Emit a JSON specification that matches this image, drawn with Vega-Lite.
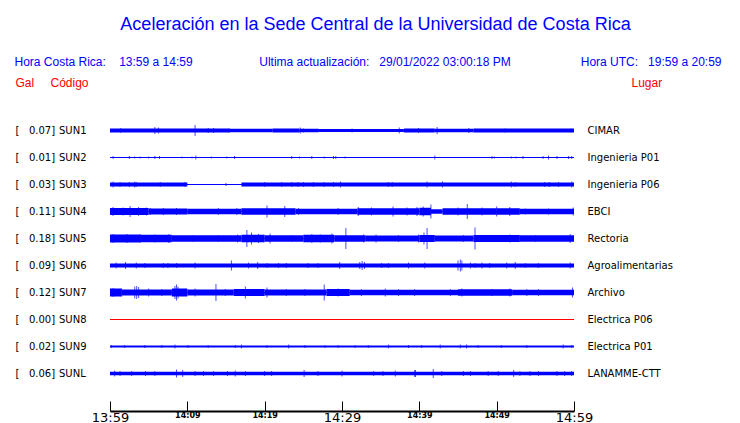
{
  "$schema": "https://vega.github.io/schema/vega-lite/v6.json",
  "width": 464,
  "height": 294,
  "autosize": {"type": "none"},
  "padding": {"left": 110, "top": 117, "right": 166, "bottom": 12},
  "background": "white",
  "title": {
    "text": "\u200b\u00a0\u00a0\u00a0Aceleración en la Sede Central de la Universidad de Costa Rica",
    "subtitle": "Hora Costa Rica:\u00a0\u00a0\u00a0\u00a013:59 a 14:59\u00a0\u00a0\u00a0\u00a0\u00a0\u00a0\u00a0\u00a0\u00a0\u00a0\u00a0\u00a0\u00a0\u00a0\u00a0\u00a0\u00a0\u00a0\u00a0\u00a0Ultima actualización:\u00a0\u00a0\u00a029/01/2022 03:00:18 PM\u00a0\u00a0\u00a0\u00a0\u00a0\u00a0\u00a0\u00a0\u00a0\u00a0\u00a0\u00a0\u00a0\u00a0\u00a0\u00a0\u00a0\u00a0\u00a0\u00a0\u00a0Hora UTC:\u00a0\u00a0\u00a019:59 a 20:59",
    "anchor": "middle",
    "frame": "group",
    "dx": 26,
    "font": "Liberation Sans",
    "fontSize": 18,
    "fontWeight": "normal",
    "color": "#0000ff",
    "subtitleFont": "Liberation Sans",
    "subtitleFontSize": 12,
    "subtitleColor": "#0000ff",
    "subtitlePadding": 23,
    "offset": 8
  },
  "datasets": {
    "estaciones": [
      {"canal": "SUN1", "pga": 0.07, "lugar": "CIMAR"},
      {"canal": "SUN2", "pga": 0.01, "lugar": "Ingenieria P01"},
      {"canal": "SUN3", "pga": 0.03, "lugar": "Ingenieria P06"},
      {"canal": "SUN4", "pga": 0.11, "lugar": "EBCI"},
      {"canal": "SUN5", "pga": 0.18, "lugar": "Rectoria"},
      {"canal": "SUN6", "pga": 0.09, "lugar": "Agroalimentarias"},
      {"canal": "SUN7", "pga": 0.12, "lugar": "Archivo"},
      {"canal": "SUN8", "pga": 0.0, "lugar": "Electrica P06"},
      {"canal": "SUN9", "pga": 0.02, "lugar": "Electrica P01"},
      {"canal": "SUNL", "pga": 0.06, "lugar": "LANAMME-CTT"}
    ],
    "tramos": [
      {"canal": "SUN1", "t0": 0, "t1": 15.5, "amp": 4},
      {"canal": "SUN1", "t0": 15.5, "t1": 21, "amp": 3.5},
      {"canal": "SUN1", "t0": 21, "t1": 24.5, "amp": 4},
      {"canal": "SUN1", "t0": 24.5, "t1": 27, "amp": 3.5},
      {"canal": "SUN1", "t0": 27, "t1": 38, "amp": 3},
      {"canal": "SUN1", "t0": 38, "t1": 42, "amp": 4},
      {"canal": "SUN1", "t0": 42, "t1": 47, "amp": 3.5},
      {"canal": "SUN1", "t0": 47, "t1": 60, "amp": 4},
      {"canal": "SUN3", "t0": 0, "t1": 10, "amp": 4},
      {"canal": "SUN3", "t0": 17, "t1": 60, "amp": 4},
      {"canal": "SUN4", "t0": 0, "t1": 5, "amp": 7},
      {"canal": "SUN4", "t0": 5, "t1": 10, "amp": 6},
      {"canal": "SUN4", "t0": 10, "t1": 17, "amp": 5.5},
      {"canal": "SUN4", "t0": 17, "t1": 24, "amp": 6.5},
      {"canal": "SUN4", "t0": 24, "t1": 32, "amp": 5.5},
      {"canal": "SUN4", "t0": 32, "t1": 40, "amp": 6.5},
      {"canal": "SUN4", "t0": 40, "t1": 41.5, "amp": 7.5},
      {"canal": "SUN4", "t0": 41.5, "t1": 43, "amp": 4.5},
      {"canal": "SUN4", "t0": 43, "t1": 50, "amp": 6.5},
      {"canal": "SUN4", "t0": 50, "t1": 53, "amp": 6.5},
      {"canal": "SUN4", "t0": 53, "t1": 60, "amp": 5.5},
      {"canal": "SUN5", "t0": 0, "t1": 4, "amp": 8},
      {"canal": "SUN5", "t0": 4, "t1": 8, "amp": 7.5},
      {"canal": "SUN5", "t0": 8, "t1": 17, "amp": 6.5},
      {"canal": "SUN5", "t0": 17, "t1": 20, "amp": 7.5},
      {"canal": "SUN5", "t0": 20, "t1": 25, "amp": 6.5},
      {"canal": "SUN5", "t0": 25, "t1": 29, "amp": 7.5},
      {"canal": "SUN5", "t0": 29, "t1": 33, "amp": 6.5},
      {"canal": "SUN5", "t0": 33, "t1": 40, "amp": 6},
      {"canal": "SUN5", "t0": 40, "t1": 42, "amp": 7},
      {"canal": "SUN5", "t0": 42, "t1": 47, "amp": 6},
      {"canal": "SUN5", "t0": 47, "t1": 53, "amp": 7},
      {"canal": "SUN5", "t0": 53, "t1": 60, "amp": 6.5},
      {"canal": "SUN6", "t0": 0, "t1": 60, "amp": 4},
      {"canal": "SUN7", "t0": 0, "t1": 1.5, "amp": 8},
      {"canal": "SUN7", "t0": 1.5, "t1": 8, "amp": 6},
      {"canal": "SUN7", "t0": 8, "t1": 10, "amp": 8},
      {"canal": "SUN7", "t0": 10, "t1": 16, "amp": 6},
      {"canal": "SUN7", "t0": 16, "t1": 20, "amp": 7},
      {"canal": "SUN7", "t0": 20, "t1": 28, "amp": 6},
      {"canal": "SUN7", "t0": 28, "t1": 31, "amp": 7},
      {"canal": "SUN7", "t0": 31, "t1": 45, "amp": 5.5},
      {"canal": "SUN7", "t0": 45, "t1": 52, "amp": 6.5},
      {"canal": "SUN7", "t0": 52, "t1": 60, "amp": 5.5},
      {"canal": "SUN9", "t0": 0, "t1": 60, "amp": 2},
      {"canal": "SUNL", "t0": 0, "t1": 60, "amp": 3.5}
    ],
    "picos": [
      {"canal": "SUN1", "t": 1.4, "amp": 5}, {"canal": "SUN1", "t": 5.8, "amp": 7}, {"canal": "SUN1", "t": 6.25, "amp": 6},
      {"canal": "SUN1", "t": 11.0, "amp": 11}, {"canal": "SUN1", "t": 12.7, "amp": 5}, {"canal": "SUN1", "t": 13.4, "amp": 5},
      {"canal": "SUN1", "t": 15.4, "amp": 4}, {"canal": "SUN1", "t": 24.6, "amp": 6}, {"canal": "SUN1", "t": 25.0, "amp": 4},
      {"canal": "SUN1", "t": 31.3, "amp": 4}, {"canal": "SUN1", "t": 37.4, "amp": 6}, {"canal": "SUN1", "t": 39.9, "amp": 5},
      {"canal": "SUN1", "t": 42.3, "amp": 7}, {"canal": "SUN1", "t": 46.4, "amp": 5}, {"canal": "SUN1", "t": 51.1, "amp": 4},
      {"canal": "SUN1", "t": 59.6, "amp": 4},
      {"canal": "SUN2", "t": 0.4, "amp": 3}, {"canal": "SUN2", "t": 2.5, "amp": 3}, {"canal": "SUN2", "t": 3.2, "amp": 2},
      {"canal": "SUN2", "t": 3.9, "amp": 2}, {"canal": "SUN2", "t": 5.0, "amp": 2}, {"canal": "SUN2", "t": 5.8, "amp": 3},
      {"canal": "SUN2", "t": 6.4, "amp": 3}, {"canal": "SUN2", "t": 9.3, "amp": 2}, {"canal": "SUN2", "t": 10.6, "amp": 2},
      {"canal": "SUN2", "t": 11.1, "amp": 4}, {"canal": "SUN2", "t": 13.1, "amp": 2}, {"canal": "SUN2", "t": 15.1, "amp": 2},
      {"canal": "SUN2", "t": 16.1, "amp": 3}, {"canal": "SUN2", "t": 23.5, "amp": 3}, {"canal": "SUN2", "t": 24.5, "amp": 2},
      {"canal": "SUN2", "t": 26.1, "amp": 3}, {"canal": "SUN2", "t": 27.7, "amp": 2}, {"canal": "SUN2", "t": 28.9, "amp": 3},
      {"canal": "SUN2", "t": 29.2, "amp": 3}, {"canal": "SUN2", "t": 30.4, "amp": 2}, {"canal": "SUN2", "t": 42.0, "amp": 4},
      {"canal": "SUN2", "t": 49.4, "amp": 3}, {"canal": "SUN2", "t": 49.7, "amp": 2}, {"canal": "SUN2", "t": 51.9, "amp": 2},
      {"canal": "SUN2", "t": 52.5, "amp": 2}, {"canal": "SUN2", "t": 53.4, "amp": 3}, {"canal": "SUN2", "t": 56.0, "amp": 3},
      {"canal": "SUN2", "t": 56.7, "amp": 4}, {"canal": "SUN2", "t": 57.8, "amp": 3}, {"canal": "SUN2", "t": 59.3, "amp": 3},
      {"canal": "SUN2", "t": 59.7, "amp": 3},
      {"canal": "SUN3", "t": 0.4, "amp": 6}, {"canal": "SUN3", "t": 1.3, "amp": 5}, {"canal": "SUN3", "t": 2.5, "amp": 5},
      {"canal": "SUN3", "t": 3.2, "amp": 6}, {"canal": "SUN3", "t": 3.4, "amp": 5}, {"canal": "SUN3", "t": 6.5, "amp": 5},
      {"canal": "SUN3", "t": 9.7, "amp": 5}, {"canal": "SUN3", "t": 15.0, "amp": 3}, {"canal": "SUN3", "t": 20.0, "amp": 5},
      {"canal": "SUN3", "t": 22.2, "amp": 5}, {"canal": "SUN3", "t": 23.5, "amp": 5}, {"canal": "SUN3", "t": 24.3, "amp": 5},
      {"canal": "SUN3", "t": 25.0, "amp": 5}, {"canal": "SUN3", "t": 26.3, "amp": 5}, {"canal": "SUN3", "t": 27.7, "amp": 5},
      {"canal": "SUN3", "t": 28.9, "amp": 5}, {"canal": "SUN3", "t": 29.8, "amp": 6}, {"canal": "SUN3", "t": 36.0, "amp": 5},
      {"canal": "SUN3", "t": 36.5, "amp": 5}, {"canal": "SUN3", "t": 41.0, "amp": 6}, {"canal": "SUN3", "t": 43.0, "amp": 6},
      {"canal": "SUN3", "t": 51.9, "amp": 6}, {"canal": "SUN3", "t": 52.4, "amp": 5}, {"canal": "SUN3", "t": 56.2, "amp": 5},
      {"canal": "SUN3", "t": 56.8, "amp": 5}, {"canal": "SUN3", "t": 58.0, "amp": 5}, {"canal": "SUN3", "t": 59.7, "amp": 6},
      {"canal": "SUN4", "t": 0.4, "amp": 9}, {"canal": "SUN4", "t": 1.7, "amp": 8}, {"canal": "SUN4", "t": 2.6, "amp": 11},
      {"canal": "SUN4", "t": 3.7, "amp": 9}, {"canal": "SUN4", "t": 4.7, "amp": 8}, {"canal": "SUN4", "t": 5.2, "amp": 7},
      {"canal": "SUN4", "t": 6.9, "amp": 7}, {"canal": "SUN4", "t": 8.6, "amp": 7}, {"canal": "SUN4", "t": 14.0, "amp": 7},
      {"canal": "SUN4", "t": 16.4, "amp": 7}, {"canal": "SUN4", "t": 20.3, "amp": 12}, {"canal": "SUN4", "t": 22.6, "amp": 11},
      {"canal": "SUN4", "t": 24.4, "amp": 7}, {"canal": "SUN4", "t": 29.5, "amp": 7}, {"canal": "SUN4", "t": 32.1, "amp": 9},
      {"canal": "SUN4", "t": 33.8, "amp": 8}, {"canal": "SUN4", "t": 36.6, "amp": 10}, {"canal": "SUN4", "t": 38.4, "amp": 8},
      {"canal": "SUN4", "t": 39.7, "amp": 9}, {"canal": "SUN4", "t": 40.5, "amp": 10}, {"canal": "SUN4", "t": 41.5, "amp": 14},
      {"canal": "SUN4", "t": 45.0, "amp": 8}, {"canal": "SUN4", "t": 46.2, "amp": 15}, {"canal": "SUN4", "t": 48.1, "amp": 8},
      {"canal": "SUN4", "t": 50.0, "amp": 10}, {"canal": "SUN4", "t": 51.7, "amp": 9}, {"canal": "SUN4", "t": 53.7, "amp": 6},
      {"canal": "SUN4", "t": 56.7, "amp": 6}, {"canal": "SUN4", "t": 59.9, "amp": 8},
      {"canal": "SUN5", "t": 0.4, "amp": 9}, {"canal": "SUN5", "t": 2.2, "amp": 9}, {"canal": "SUN5", "t": 3.9, "amp": 8},
      {"canal": "SUN5", "t": 5.8, "amp": 8}, {"canal": "SUN5", "t": 7.6, "amp": 9}, {"canal": "SUN5", "t": 10.8, "amp": 7},
      {"canal": "SUN5", "t": 14.0, "amp": 7}, {"canal": "SUN5", "t": 16.5, "amp": 8}, {"canal": "SUN5", "t": 17.7, "amp": 17},
      {"canal": "SUN5", "t": 18.3, "amp": 12}, {"canal": "SUN5", "t": 19.2, "amp": 9}, {"canal": "SUN5", "t": 20.7, "amp": 10},
      {"canal": "SUN5", "t": 23.5, "amp": 7}, {"canal": "SUN5", "t": 26.1, "amp": 9}, {"canal": "SUN5", "t": 27.2, "amp": 8},
      {"canal": "SUN5", "t": 28.7, "amp": 10}, {"canal": "SUN5", "t": 30.5, "amp": 21}, {"canal": "SUN5", "t": 32.8, "amp": 8},
      {"canal": "SUN5", "t": 34.4, "amp": 8}, {"canal": "SUN5", "t": 37.3, "amp": 7}, {"canal": "SUN5", "t": 39.9, "amp": 8},
      {"canal": "SUN5", "t": 40.6, "amp": 12}, {"canal": "SUN5", "t": 41.0, "amp": 21}, {"canal": "SUN5", "t": 45.7, "amp": 7},
      {"canal": "SUN5", "t": 47.2, "amp": 22}, {"canal": "SUN5", "t": 48.5, "amp": 7}, {"canal": "SUN5", "t": 51.7, "amp": 8},
      {"canal": "SUN5", "t": 55.0, "amp": 7}, {"canal": "SUN5", "t": 59.5, "amp": 9},
      {"canal": "SUN6", "t": 0.8, "amp": 6}, {"canal": "SUN6", "t": 2.0, "amp": 7}, {"canal": "SUN6", "t": 3.4, "amp": 6},
      {"canal": "SUN6", "t": 4.5, "amp": 5}, {"canal": "SUN6", "t": 6.9, "amp": 5}, {"canal": "SUN6", "t": 7.5, "amp": 5},
      {"canal": "SUN6", "t": 8.6, "amp": 5}, {"canal": "SUN6", "t": 11.0, "amp": 6}, {"canal": "SUN6", "t": 15.7, "amp": 10},
      {"canal": "SUN6", "t": 17.9, "amp": 6}, {"canal": "SUN6", "t": 19.1, "amp": 7}, {"canal": "SUN6", "t": 20.3, "amp": 5},
      {"canal": "SUN6", "t": 21.8, "amp": 5}, {"canal": "SUN6", "t": 22.8, "amp": 5}, {"canal": "SUN6", "t": 25.6, "amp": 5},
      {"canal": "SUN6", "t": 26.9, "amp": 5}, {"canal": "SUN6", "t": 29.7, "amp": 7}, {"canal": "SUN6", "t": 32.3, "amp": 7},
      {"canal": "SUN6", "t": 32.6, "amp": 9}, {"canal": "SUN6", "t": 32.9, "amp": 7}, {"canal": "SUN6", "t": 35.1, "amp": 5},
      {"canal": "SUN6", "t": 36.0, "amp": 5}, {"canal": "SUN6", "t": 38.6, "amp": 6}, {"canal": "SUN6", "t": 40.7, "amp": 6},
      {"canal": "SUN6", "t": 45.0, "amp": 10}, {"canal": "SUN6", "t": 45.3, "amp": 12}, {"canal": "SUN6", "t": 45.5, "amp": 10},
      {"canal": "SUN6", "t": 46.6, "amp": 6}, {"canal": "SUN6", "t": 47.2, "amp": 5}, {"canal": "SUN6", "t": 48.1, "amp": 6},
      {"canal": "SUN6", "t": 49.1, "amp": 5}, {"canal": "SUN6", "t": 51.3, "amp": 6}, {"canal": "SUN6", "t": 52.4, "amp": 7},
      {"canal": "SUN6", "t": 53.7, "amp": 5}, {"canal": "SUN6", "t": 55.4, "amp": 5}, {"canal": "SUN6", "t": 59.5, "amp": 6},
      {"canal": "SUN7", "t": 0.4, "amp": 9}, {"canal": "SUN7", "t": 1.5, "amp": 8}, {"canal": "SUN7", "t": 3.2, "amp": 12},
      {"canal": "SUN7", "t": 3.45, "amp": 13}, {"canal": "SUN7", "t": 3.7, "amp": 11}, {"canal": "SUN7", "t": 5.0, "amp": 8},
      {"canal": "SUN7", "t": 6.7, "amp": 7}, {"canal": "SUN7", "t": 8.4, "amp": 13}, {"canal": "SUN7", "t": 8.6, "amp": 16},
      {"canal": "SUN7", "t": 8.8, "amp": 12}, {"canal": "SUN7", "t": 11.0, "amp": 8}, {"canal": "SUN7", "t": 13.7, "amp": 17},
      {"canal": "SUN7", "t": 14.9, "amp": 7}, {"canal": "SUN7", "t": 17.5, "amp": 12}, {"canal": "SUN7", "t": 20.3, "amp": 10},
      {"canal": "SUN7", "t": 22.8, "amp": 7}, {"canal": "SUN7", "t": 25.2, "amp": 7}, {"canal": "SUN7", "t": 27.7, "amp": 16},
      {"canal": "SUN7", "t": 29.5, "amp": 8}, {"canal": "SUN7", "t": 32.5, "amp": 7}, {"canal": "SUN7", "t": 35.6, "amp": 8},
      {"canal": "SUN7", "t": 37.3, "amp": 7}, {"canal": "SUN7", "t": 39.4, "amp": 7}, {"canal": "SUN7", "t": 44.0, "amp": 7},
      {"canal": "SUN7", "t": 45.5, "amp": 8}, {"canal": "SUN7", "t": 49.4, "amp": 7}, {"canal": "SUN7", "t": 51.7, "amp": 8},
      {"canal": "SUN7", "t": 53.9, "amp": 7}, {"canal": "SUN7", "t": 55.4, "amp": 7}, {"canal": "SUN7", "t": 59.8, "amp": 10},
      {"canal": "SUN9", "t": 0.2, "amp": 3}, {"canal": "SUN9", "t": 1.9, "amp": 3}, {"canal": "SUN9", "t": 4.5, "amp": 3},
      {"canal": "SUN9", "t": 6.7, "amp": 3}, {"canal": "SUN9", "t": 8.4, "amp": 4}, {"canal": "SUN9", "t": 10.1, "amp": 3},
      {"canal": "SUN9", "t": 12.7, "amp": 3}, {"canal": "SUN9", "t": 16.2, "amp": 3}, {"canal": "SUN9", "t": 17.0, "amp": 4},
      {"canal": "SUN9", "t": 20.3, "amp": 3}, {"canal": "SUN9", "t": 23.1, "amp": 4}, {"canal": "SUN9", "t": 25.2, "amp": 3},
      {"canal": "SUN9", "t": 27.8, "amp": 3}, {"canal": "SUN9", "t": 29.5, "amp": 3}, {"canal": "SUN9", "t": 31.7, "amp": 3},
      {"canal": "SUN9", "t": 33.4, "amp": 3}, {"canal": "SUN9", "t": 36.0, "amp": 4}, {"canal": "SUN9", "t": 38.6, "amp": 3},
      {"canal": "SUN9", "t": 40.3, "amp": 3}, {"canal": "SUN9", "t": 42.7, "amp": 4}, {"canal": "SUN9", "t": 45.3, "amp": 4},
      {"canal": "SUN9", "t": 46.1, "amp": 4}, {"canal": "SUN9", "t": 47.6, "amp": 3}, {"canal": "SUN9", "t": 50.6, "amp": 3},
      {"canal": "SUN9", "t": 53.9, "amp": 3}, {"canal": "SUN9", "t": 58.6, "amp": 4}, {"canal": "SUN9", "t": 59.7, "amp": 3},
      {"canal": "SUNL", "t": 0.6, "amp": 6}, {"canal": "SUNL", "t": 1.3, "amp": 5}, {"canal": "SUNL", "t": 2.8, "amp": 5},
      {"canal": "SUNL", "t": 4.6, "amp": 5}, {"canal": "SUNL", "t": 5.8, "amp": 5}, {"canal": "SUNL", "t": 8.6, "amp": 8},
      {"canal": "SUNL", "t": 9.4, "amp": 7}, {"canal": "SUNL", "t": 11.0, "amp": 5}, {"canal": "SUNL", "t": 12.1, "amp": 5},
      {"canal": "SUNL", "t": 13.4, "amp": 5}, {"canal": "SUNL", "t": 15.2, "amp": 5}, {"canal": "SUNL", "t": 16.2, "amp": 6},
      {"canal": "SUNL", "t": 17.5, "amp": 5}, {"canal": "SUNL", "t": 20.0, "amp": 5}, {"canal": "SUNL", "t": 20.9, "amp": 5},
      {"canal": "SUNL", "t": 25.1, "amp": 7}, {"canal": "SUNL", "t": 26.9, "amp": 5}, {"canal": "SUNL", "t": 30.0, "amp": 6},
      {"canal": "SUNL", "t": 34.1, "amp": 5}, {"canal": "SUNL", "t": 35.3, "amp": 5}, {"canal": "SUNL", "t": 36.9, "amp": 6},
      {"canal": "SUNL", "t": 39.4, "amp": 7}, {"canal": "SUNL", "t": 39.5, "amp": 7}, {"canal": "SUNL", "t": 41.8, "amp": 9},
      {"canal": "SUNL", "t": 42.9, "amp": 5}, {"canal": "SUNL", "t": 45.7, "amp": 5}, {"canal": "SUNL", "t": 46.6, "amp": 5},
      {"canal": "SUNL", "t": 48.9, "amp": 5}, {"canal": "SUNL", "t": 50.2, "amp": 5}, {"canal": "SUNL", "t": 52.2, "amp": 7},
      {"canal": "SUNL", "t": 53.0, "amp": 5}, {"canal": "SUNL", "t": 54.3, "amp": 5}, {"canal": "SUNL", "t": 55.4, "amp": 5},
      {"canal": "SUNL", "t": 57.8, "amp": 5}, {"canal": "SUNL", "t": 58.8, "amp": 5}, {"canal": "SUNL", "t": 59.7, "amp": 5}
    ]
  },
  "layer": [
    {
      "data": {"name": "estaciones"},
      "mark": {"type": "rule", "strokeWidth": 1},
      "encoding": {
        "x": {"datum": 0, "type": "quantitative", "scale": {"domain": [0, 60], "nice": false, "zero": false}, "title": null},
        "x2": {"datum": 60},
        "y": {
          "field": "pga", "type": "nominal",
          "scale": {"type": "point", "padding": 0, "domain": [0.07, 0.01, 0.03, 0.11, 0.18, 0.09, 0.12, 0, 0.02, 0.06], "range": [13.5, 256.5]},
          "axis": {
            "orient": "left", "ticks": false, "domain": false, "grid": false,
            "labelAlign": "left", "labelBaseline": "middle", "labelPadding": 95,
            "labelFont": "DejaVu Sans", "labelFontSize": 10, "labelColor": "black", "labelOverlap": false,
            "labelExpr": "'[\u00a0\u00a0\u00a0' + format(datum.value, '.2f') + ']'",
            "title": "Gal", "titleAngle": 0, "titleX": -95, "titleY": -35, "titleAlign": "left", "titleBaseline": "middle",
            "titleFont": "Liberation Sans", "titleFontSize": 12, "titleFontWeight": "normal", "titleColor": "#ff0000"
          }
        },
        "color": {"condition": {"test": "datum.pga == 0", "value": "#ff0000"}, "value": "#0000ff"}
      }
    },
    {
      "data": {"name": "tramos"},
      "mark": {"type": "rule", "color": "#0000ff", "strokeCap": "butt"},
      "encoding": {
        "x": {
          "field": "t0", "type": "quantitative", "scale": {"domain": [0, 60], "nice": false, "zero": false}, "title": null,
          "axis": {
            "values": [0, 5, 10, 15, 20, 25, 30, 35, 40, 45, 50, 55, 60],
            "domain": true, "domainColor": "#000000", "domainWidth": 2,
            "labelFontSize": {"condition": {"test": "datum.value % 30 == 0", "value": 13}, "value": 8},
            "labelFontWeight": {"condition": {"test": "datum.value % 30 == 0", "value": "normal"}, "value": "bold"},
            "labelExpr": "datum.value % 10 == 0 ? format(floor((839 + datum.value) / 60), 'd') + ':' + format((839 + datum.value) % 60, '02d') : ''"
          }
        },
        "x2": {"field": "t1"},
        "y": {
          "field": "canal", "type": "nominal",
          "scale": {"type": "point", "padding": 0, "domain": ["SUN1", "SUN2", "SUN3", "SUN4", "SUN5", "SUN6", "SUN7", "SUN8", "SUN9", "SUNL"], "range": [13.5, 256.5]},
          "axis": {
            "orient": "left", "ticks": false, "domain": false, "grid": false,
            "labelAlign": "left", "labelBaseline": "middle", "labelPadding": 51.5,
            "labelFont": "DejaVu Sans", "labelFontSize": 10, "labelColor": "black", "labelOverlap": false,
            "title": "Código", "titleAngle": 0, "titleX": -60, "titleY": -35, "titleAlign": "left", "titleBaseline": "middle",
            "titleFont": "Liberation Sans", "titleFontSize": 12, "titleFontWeight": "normal", "titleColor": "#ff0000"
          }
        },
        "strokeWidth": {"field": "amp", "type": "quantitative", "scale": {"domain": [0, 25], "range": [0, 25]}, "legend": null}
      }
    },
    {
      "data": {"name": "picos"},
      "transform": [{"lookup": "canal", "from": {"data": {"name": "estaciones"}, "key": "canal", "fields": ["lugar"]}}],
      "mark": {"type": "tick", "orient": "vertical", "thickness": 1, "color": "#0000ff"},
      "encoding": {
        "x": {"field": "t", "type": "quantitative", "scale": {"domain": [0, 60], "nice": false, "zero": false}, "title": null},
        "y": {
          "field": "lugar", "type": "nominal",
          "scale": {"type": "point", "padding": 0, "domain": ["CIMAR", "Ingenieria P01", "Ingenieria P06", "EBCI", "Rectoria", "Agroalimentarias", "Archivo", "Electrica P06", "Electrica P01", "LANAMME-CTT"], "range": [13.5, 256.5]},
          "axis": {
            "orient": "right", "ticks": false, "domain": false, "grid": false,
            "labelAlign": "left", "labelBaseline": "middle", "labelPadding": 13,
            "labelFont": "DejaVu Sans", "labelFontSize": 10, "labelColor": "black", "labelOverlap": false,
            "title": "Lugar", "titleAngle": 0, "titleX": 57, "titleY": -35, "titleAlign": "left", "titleBaseline": "middle",
            "titleFont": "Liberation Sans", "titleFontSize": 12, "titleFontWeight": "normal", "titleColor": "#ff0000"
          }
        },
        "size": {"field": "amp", "type": "quantitative", "scale": {"domain": [0, 25], "range": [0, 25]}, "legend": null}
      }
    }
  ],
  "resolve": {"scale": {"y": "independent"}, "axis": {"y": "independent"}},
  "config": {
    "view": {"stroke": null},
    "axisX": {
      "orient": "bottom", "grid": false, "domain": true,
      "ticks": true, "tickSize": -10, "tickColor": "#000000", "tickWidth": 1,
      "labelFlush": false, "labelOverlap": false, "labelPadding": 10, "labelBaseline": "top",
      "labelFont": "DejaVu Sans", "labelColor": "#000000", "title": null
    }
  }
}
